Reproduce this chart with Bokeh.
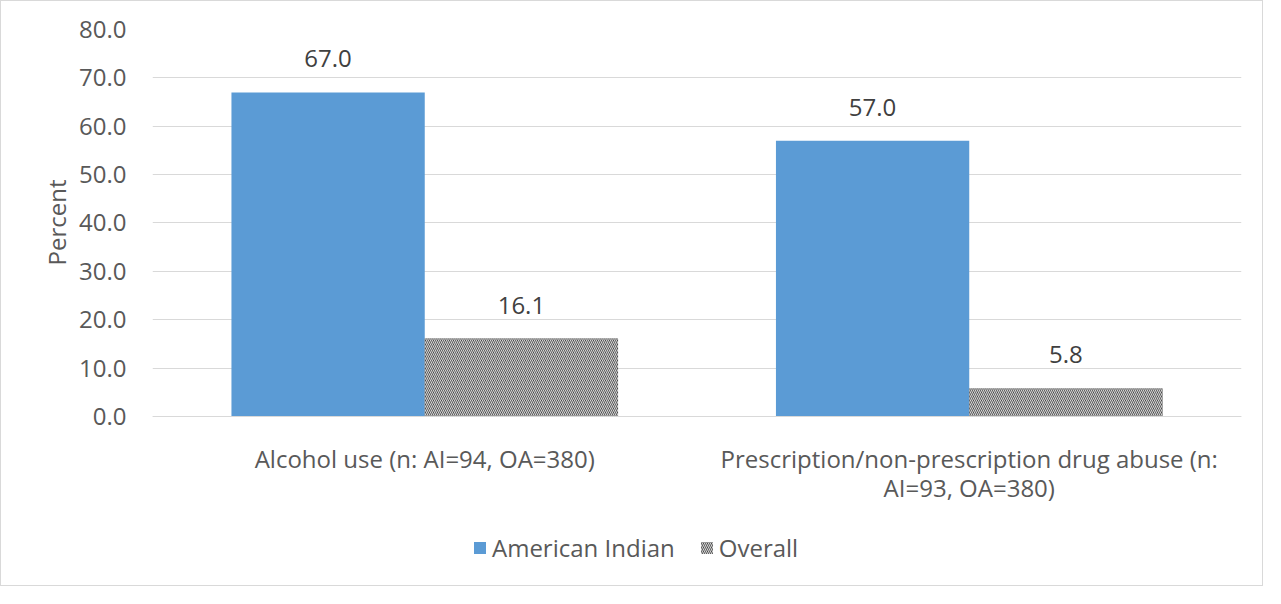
from bokeh.plotting import figure
from bokeh.models import ColumnDataSource, Legend, LegendItem, FactorRange, Range1d, FixedTicker, PrintfTickFormatter, Title
from bokeh.transform import dodge
from bokeh.core.properties import value
from bokeh.embed import file_html
from bokeh.resources import INLINE

categories = ["Alcohol use (n: AI=94, OA=380)",
              "Prescription/non-prescription drug abuse (n:\nAI=93, OA=380)"]
series = ["American Indian", "Overall"]
american_indian = [67.0, 57.0]
overall = [16.1, 5.8]
y_ticks = [0, 10, 20, 30, 40, 50, 60, 70, 80]
y_title = "Percent"

FONT = "Open Sans"
TXT = "#595959"
FS = "24px"

src = ColumnDataSource(dict(
    cat=categories,
    ai=american_indian,
    oa=overall,
    ai_lbl=["%.1f" % v for v in american_indian],
    oa_lbl=["%.1f" % v for v in overall],
))

# frame spans y from -33.7 (room for axis labels and legend) to 80
p = figure(width=1263, height=586, x_range=FactorRange(*categories, range_padding=0),
           y_range=Range1d(-33.7, 80), output_backend="svg", toolbar_location=None,
           min_border_left=151, min_border_right=23, min_border_top=28, min_border_bottom=8)
p.styles = {"border": "1px solid #d9d9d9"}
p.outline_line_color = None
p.background_fill_color = "white"

bw = 0.355
off = bw / 2
r1 = p.vbar(x=dodge("cat", -off, range=p.x_range), top="ai", width=bw, source=src,
            fill_color="#5b9bd5", line_color=None)
r2 = p.vbar(x=dodge("cat", off, range=p.x_range), top="oa", width=bw, source=src,
            fill_color="#2e2e2e", line_color=None, hatch_pattern="left_diagonal_line",
            hatch_color="#d4d4d4", hatch_scale=4, hatch_weight=1.2)

p.text(x=dodge("cat", -off, range=p.x_range), y="ai", text="ai_lbl", source=src,
       text_align="center", text_baseline="bottom", y_offset=-25,
       text_font=value(FONT), text_font_size=FS, text_color="#404040")
p.text(x=dodge("cat", off, range=p.x_range), y="oa", text="oa_lbl", source=src,
       text_align="center", text_baseline="bottom", y_offset=-25,
       text_font=value(FONT), text_font_size=FS, text_color="#404040")

p.yaxis.ticker = FixedTicker(ticks=y_ticks)
p.yaxis.formatter = PrintfTickFormatter(format="%.1f")
for ax in (p.xaxis, p.yaxis):
    ax.major_label_text_font = FONT
    ax.major_label_text_font_size = FS
    ax.major_label_text_color = TXT
    ax.major_tick_line_color = None
    ax.minor_tick_line_color = None
p.yaxis.axis_line_color = None
p.yaxis.major_label_standoff = 20
p.xaxis.fixed_location = 0
p.xaxis.axis_line_color = "#d9d9d9"
p.xaxis.major_label_standoff = 20
p.xaxis.major_label_text_line_height = 0.85

# y-axis title, centred on the 0-80 part of the frame
p.add_layout(Title(text=y_title, align="right", offset=150, text_font=FONT,
                   text_font_size=FS, text_font_style="normal", text_color=TXT,
                   standoff=8), "left")

p.xgrid.grid_line_color = None
p.ygrid.grid_line_color = "#d9d9d9"
p.ygrid.grid_line_width = 1

legend = Legend(items=[LegendItem(label=series[0], renderers=[r1]),
                       LegendItem(label=series[1], renderers=[r2])],
                orientation="horizontal", location=(320, 15),
                label_text_font=FONT, label_text_font_size=FS, label_text_color=TXT,
                label_standoff=5, glyph_width=15, glyph_height=15, spacing=24,
                border_line_color=None, background_fill_alpha=0, padding=4)
p.add_layout(legend, "center")

open("out.html", "w").write(file_html(p, INLINE))
